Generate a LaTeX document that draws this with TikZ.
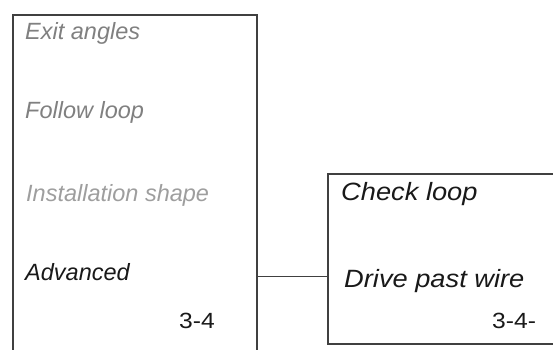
\documentclass[tikz,border=0pt]{standalone}
\usepackage{fontspec}
\setmainfont{Liberation Sans}
\begin{document}
\begin{tikzpicture}[x=1pt,y=1pt,
  frame/.style={draw=none,minimum width=#1,inner sep=0pt,outer sep=0pt},
  edge/.style={draw=black!75,line width=1.2pt},
  item/.style={anchor=base west,inner sep=0pt,font=\fontsize{23.5}{26}\selectfont\itshape},
  ritem/.style={anchor=base west,inner sep=0pt,font=\fontsize{25}{28}\selectfont\itshape,xscale=1.09,transform shape},
  num/.style={anchor=base west,inner sep=0pt,font=\fontsize{22}{26}\selectfont,xscale=1.12,transform shape},
  dim1/.style={text=black!50},
  dim2/.style={text=black!38}]
\useasboundingbox (0,0) rectangle (553,-349);
\node[frame=244pt,minimum height=340pt] (L) at (135,-185) {};
\node[frame=240pt,minimum height=170pt] (R) at (448,-259) {};
\draw[edge] (L.south west) -- (L.north west) -- (L.north east) -- (L.south east);
\draw[edge] (R.north east) -- (R.north west) -- (R.south west) -- (R.south east);
\node[item,dim1] (t1) at (25,-39) {Exit angles};
\node[item,dim1] (t2) at (25,-118) {Follow loop};
\node[item,dim2] (t3) at (26,-201.5) {Installation shape};
\node[item,text=black!90] (t4) at (25,-280) {Advanced};
\node[num,text=black!90] (n1) at (179,-328) {3-4};
\node[ritem,text=black!90] (r1) at (341,-200.5) {Check loop};
\node[ritem,text=black!90] (r2) at (344,-287.5) {Drive past wire};
\node[num,text=black!90] (n2) at (492,-328) {3-4-};
\draw[edge,line width=1pt] (L.east |- 0,-276) -- (R.west |- 0,-276);
\end{tikzpicture}
\end{document}
